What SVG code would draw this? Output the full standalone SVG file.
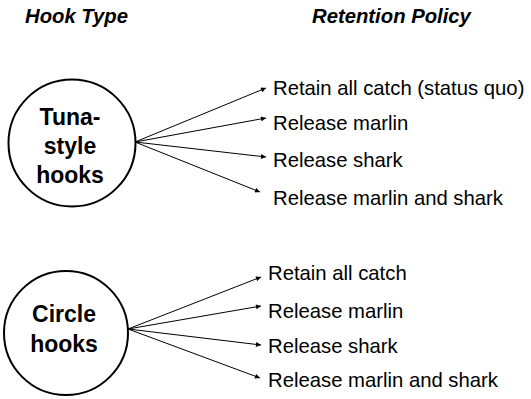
<svg xmlns="http://www.w3.org/2000/svg" width="531" height="399" viewBox="0 0 531 399">
<style>
.title{font-family:"Liberation Sans",Arial,sans-serif;font-weight:bold;font-style:italic;font-size:20.3px;fill:#000}
.node{fill:#fff;stroke:#000;stroke-width:2}
.nt{font-family:"Liberation Sans",Arial,sans-serif;font-weight:bold;font-size:23px;text-anchor:middle;fill:#000}
.lbl{font-family:"Liberation Sans",Arial,sans-serif;font-size:20.3px;fill:#000}
.edge{stroke:#000;stroke-width:1;fill:none;marker-end:url(#ah)}
</style>
<defs>
<marker id="ah" viewBox="0 0 10 10" refX="10" refY="5" markerWidth="7" markerHeight="5" markerUnits="userSpaceOnUse" orient="auto">
<path d="M0,0 L10,5 L0,10 z" fill="#000"/>
</marker>
</defs>
<rect width="531" height="399" fill="#fff"/>
<text class="title" x="25" y="23">Hook Type</text>
<text class="title" x="312" y="23">Retention Policy</text>
<g id="tuna">
<circle class="node" cx="72" cy="143" r="63.5"/>
<text class="nt" x="70" y="125">Tuna-</text>
<text class="nt" x="70" y="154">style</text>
<text class="nt" x="70" y="183">hooks</text>
</g>
<g id="circle">
<circle class="node" cx="66" cy="333" r="62"/>
<text class="nt" x="64" y="322">Circle</text>
<text class="nt" x="64" y="352">hooks</text>
</g>
<g id="p1"><text class="lbl" x="273" y="95">Retain all catch (status quo)</text></g>
<g id="p2"><text class="lbl" x="273" y="130">Release marlin</text></g>
<g id="p3"><text class="lbl" x="273" y="167">Release shark</text></g>
<g id="p4"><text class="lbl" x="273" y="205">Release marlin and shark</text></g>
<g id="q1"><text class="lbl" x="268" y="280">Retain all catch</text></g>
<g id="q2"><text class="lbl" x="268" y="318">Release marlin</text></g>
<g id="q3"><text class="lbl" x="268" y="353">Release shark</text></g>
<g id="q4"><text class="lbl" x="268" y="387">Release marlin and shark</text></g>
<g id="connectors">
<line class="edge" x1="135" y1="142" x2="266" y2="88"/>
<line class="edge" x1="135" y1="142" x2="266" y2="118"/>
<line class="edge" x1="135" y1="142" x2="266" y2="157"/>
<line class="edge" x1="135" y1="142" x2="260" y2="192"/>
<line class="edge" x1="128" y1="329" x2="261" y2="277"/>
<line class="edge" x1="128" y1="329" x2="261" y2="306"/>
<line class="edge" x1="128" y1="329" x2="261" y2="345"/>
<line class="edge" x1="128" y1="329" x2="260" y2="378"/>
</g>
</svg>
